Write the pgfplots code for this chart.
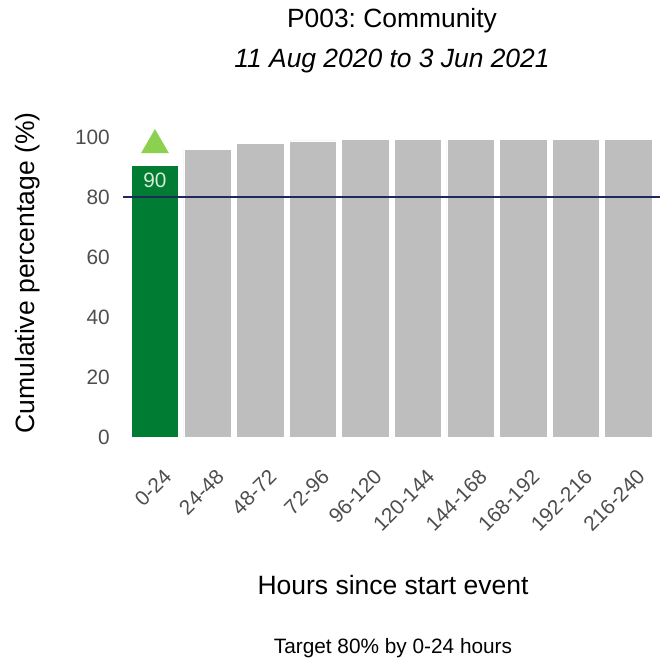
\documentclass[border=0pt]{standalone}
\usepackage{pgfplots}
\pgfplotsset{compat=1.18}
\usepackage{fontspec}
\setmainfont{Liberation Sans}
\frenchspacing
\definecolor{bargreen}{RGB}{0,125,50}
\definecolor{bargray}{RGB}{190,190,190}
\definecolor{navy}{RGB}{30,42,90}
\definecolor{trigreen}{RGB}{140,208,80}
\definecolor{tickgray}{RGB}{77,77,77}
\definecolor{labwhite}{RGB}{215,235,215}
\begin{document}
\begin{tikzpicture}[x=1bp,y=1bp]
\path[use as bounding box] (0,0) rectangle (659,659);
\begin{axis}[
  at={(123.4bp,207bp)}, anchor=south west,
  scale only axis, width=536.5bp, height=330bp,
  xmin=-0.6, xmax=9.6, ymin=-5, ymax=105,
  axis line style={draw=none}, tick style={draw=none},
  major tick length=0pt,
  xtick={0,...,9},
  xticklabels={0-24,24-48,48-72,72-96,96-120,120-144,144-168,168-192,192-216,216-240},
  ytick={0,20,40,60,80,100},
  /pgf/number format/assume math mode=true,
  ticklabel style={font=\fontsize{20.8bp}{24bp}\selectfont, text=tickgray},
  yticklabel style={anchor=east, inner sep=0pt, xshift=-13.4bp},
  xticklabel style={xshift=7.5bp, yshift=-16bp, rotate=45, anchor=north east, inner sep=0pt},
  clip=false,
]
\addplot[ybar, bar width=0.9, fill=bargray, draw=white, line width=0.6bp, bar shift=0pt]
  coordinates {(1,95.9) (2,97.8) (3,98.7) (4,99.1) (5,99.1) (6,99.1) (7,99.1) (8,99.2) (9,99.2)};
\addplot[ybar, bar width=0.9, fill=bargreen, draw=white, line width=0.6bp, bar shift=0pt]
  coordinates {(0,90.4)};
\addplot[navy, line width=2bp, mark=none] coordinates {(-0.6,80) (9.6,80)};
\addplot[only marks, mark=triangle*, mark size=15.6bp, color=trigreen] coordinates {(0,97.3)};
\addplot[draw=none, mark=none, nodes near coords, point meta=explicit symbolic,
  every node near coord/.append style={anchor=center, text=labwhite, font=\fontsize{20.8bp}{24bp}\selectfont}]
  coordinates {(0,85.6) [90]};
\end{axis}
\node[anchor=base, font=\fontsize{26.4bp}{30bp}\selectfont] at (392,631) {P003: Community};
\node[anchor=base, font=\fontsize{26.4bp}{30bp}\selectfont\itshape] at (392,591) {11 Aug 2020 to 3 Jun 2021};
\node[anchor=base, font=\fontsize{26.5bp}{30bp}\selectfont] at (393,64) {Hours since start event};
\node[anchor=base, font=\fontsize{20.8bp}{24bp}\selectfont] at (393,5) {Target 80\% by 0-24 hours};
\node[anchor=base, rotate=90, font=\fontsize{26.5bp}{30bp}\selectfont] at (34,386) {Cumulative percentage (\%)};
\end{tikzpicture}
\end{document}
